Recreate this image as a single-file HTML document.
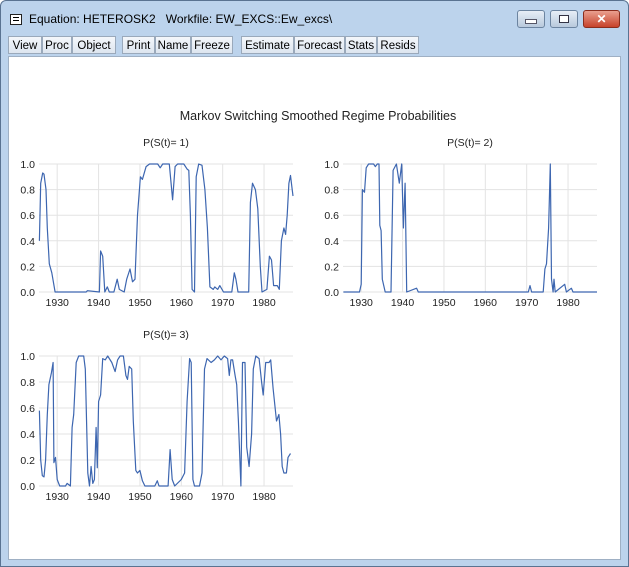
<!DOCTYPE html>
<html><head><meta charset="utf-8"><style>
body{margin:0;width:629px;height:567px;overflow:hidden;font-family:"Liberation Sans",sans-serif;}
#win{position:absolute;left:0;top:0;width:627px;height:565px;background:#bcd3ec;border:1px solid #5a7391;border-radius:6px 6px 0 0;}
.tb{position:absolute;top:35px;height:18px;background:linear-gradient(#f4f7fb,#dde5ef);border:1px solid #9aa9bb;font-size:11.5px;line-height:18px;text-align:center;color:#000;box-sizing:border-box;}
.wbtn{position:absolute;top:9px;height:18px;border:1px solid #6c84a0;border-radius:3px;background:linear-gradient(#e7eef7,#b8c9dc);box-sizing:border-box;}
</style></head><body>
<div id="win">
<div style="position:absolute;left:9px;top:13px;width:12px;height:11px;border:1px solid #222;background:#fff;box-sizing:border-box;"><div style="margin:2px 2px;border-top:1px solid #000;border-bottom:1px solid #000;height:2px"></div></div>
<div style="position:absolute;left:28px;top:11px;font-size:12px;color:#000;white-space:pre">Equation: HETEROSK2   Workfile: EW_EXCS::Ew_excs\</div>
<div class="wbtn" style="left:516px;width:28px"><div style="margin:8px auto 0;width:10px;height:3px;background:#fff;border:1px solid #556"></div></div>
<div class="wbtn" style="left:549px;width:28px"><div style="margin:4px auto 0;width:8px;height:6px;border:1px solid #334;background:#fff"></div></div>
<div class="wbtn" style="left:582px;width:37px;background:linear-gradient(#e9a08f,#c7422a);border-color:#8a2d1d;color:#fff;font-weight:bold;font-size:12px;text-align:center;line-height:16px">✕</div>
<div class="tb" style="left:7px;width:34px">View</div>
<div class="tb" style="left:41px;width:30px">Proc</div>
<div class="tb" style="left:71px;width:44px">Object</div>
<div class="tb" style="left:121px;width:33px">Print</div>
<div class="tb" style="left:154px;width:36px">Name</div>
<div class="tb" style="left:190px;width:42px">Freeze</div>
<div class="tb" style="left:240px;width:53px">Estimate</div>
<div class="tb" style="left:293px;width:51px">Forecast</div>
<div class="tb" style="left:344px;width:32px">Stats</div>
<div class="tb" style="left:376px;width:42px">Resids</div>
<div style="position:absolute;left:7px;top:55px;width:611px;height:502px;background:#fff;border:1px solid #9fb0c4;"></div>
</div>
<svg id="chart" width="629" height="567" style="position:absolute;left:0;top:0" font-family="Liberation Sans, sans-serif">
<text x="318" y="120" text-anchor="middle" font-size="12.5" fill="#222">Markov Switching Smoothed Regime Probabilities</text>
</svg>
<script>
const xTicks=[1930,1940,1950,1960,1970,1980];
const yTicks=[0,0.2,0.4,0.6,0.8,1.0];
const yTickLabels=["0.0","0.2","0.4","0.6","0.8","1.0"];
const titles=["P(S(t)= 1)","P(S(t)= 2)","P(S(t)= 3)"];
const years1=[1925.7,1926.0,1926.5,1926.8,1927.3,1927.6,1928.1,1928.7,1929.5,1937.0,1937.3,1940.2,1940.5,1941.0,1941.5,1942.1,1942.6,1943.7,1944.5,1945.0,1946.2,1946.8,1947.6,1948.2,1948.8,1949.4,1950.1,1950.6,1951.5,1952.3,1954.3,1954.9,1955.5,1957.1,1957.9,1958.5,1959.1,1960.6,1961.4,1961.8,1962.2,1962.6,1963.2,1963.6,1964.2,1965.0,1965.7,1966.3,1966.9,1967.7,1968.1,1968.8,1969.3,1970.2,1972.2,1972.8,1973.2,1973.7,1976.3,1976.7,1977.2,1977.9,1978.5,1979.1,1979.5,1980.7,1981.3,1981.8,1982.3,1983.2,1983.7,1984.2,1984.8,1985.2,1985.6,1986.0,1986.4,1986.8,1987.0];
const values1=[0.4,0.85,0.93,0.92,0.8,0.5,0.22,0.15,0.0,0.0,0.01,0.0,0.32,0.28,0.0,0.04,0.0,0.0,0.1,0.02,0.0,0.1,0.18,0.08,0.1,0.6,0.9,0.88,0.98,1.0,1.0,0.97,1.0,1.0,0.72,0.98,1.0,1.0,0.96,0.95,0.6,0.02,0.0,0.9,1.0,0.99,0.8,0.5,0.04,0.02,0.04,0.02,0.05,0.0,0.0,0.15,0.1,0.0,0.0,0.7,0.85,0.8,0.65,0.2,0.0,0.02,0.28,0.25,0.05,0.05,0.02,0.4,0.5,0.45,0.6,0.85,0.91,0.8,0.75];
const years2=[1925.7,1929.6,1930.0,1930.3,1930.8,1931.2,1931.8,1933.0,1933.4,1933.9,1934.3,1934.5,1934.8,1935.1,1935.8,1937.2,1937.7,1938.5,1939.2,1939.8,1940.2,1940.6,1941.0,1943.4,1943.8,1970.4,1970.8,1971.2,1974.0,1974.4,1974.8,1975.3,1975.7,1976.0,1976.4,1976.6,1976.9,1979.2,1979.6,1980.8,1981.2,1987.0];
const values2=[0,0,0.06,0.8,0.78,0.97,1.0,1.0,0.98,1.0,1.0,0.52,0.48,0.1,0.0,0.0,0.95,1.0,0.85,1.0,0.5,0.85,0.0,0.03,0.0,0.0,0.05,0.0,0.0,0.18,0.22,0.5,1.0,0.1,0.0,0.1,0.0,0.06,0.0,0.03,0.0,0.0];
const years3=[1925.7,1926.0,1926.4,1926.8,1927.2,1927.6,1928.0,1928.6,1929.0,1929.2,1929.6,1930.0,1930.6,1932.0,1932.4,1933.2,1933.6,1934.0,1934.6,1935.2,1936.4,1936.8,1937.4,1937.8,1938.2,1938.6,1939.0,1939.4,1939.7,1940.0,1940.5,1941.0,1941.6,1942.2,1943.2,1944.0,1944.6,1945.2,1946.0,1946.6,1947.0,1947.4,1948.0,1948.4,1949.0,1949.4,1950.0,1950.6,1951.2,1953.6,1954.2,1954.6,1956.8,1957.3,1957.8,1958.4,1960.0,1960.8,1961.4,1962.0,1962.4,1962.8,1963.2,1964.4,1965.0,1965.6,1966.2,1967.2,1968.0,1968.8,1969.6,1970.4,1971.2,1971.6,1972.0,1972.4,1973.0,1973.4,1973.8,1974.4,1974.8,1975.4,1975.8,1976.4,1977.0,1977.4,1978.0,1978.8,1979.4,1979.8,1980.4,1981.2,1981.6,1982.2,1983.0,1983.6,1984.0,1984.4,1984.8,1985.4,1985.8,1986.4];
const values3=[0.58,0.2,0.08,0.07,0.2,0.55,0.78,0.87,0.95,0.18,0.22,0.05,0.0,0.0,0.02,0.0,0.45,0.55,0.95,1.0,1.0,0.9,0.1,0.0,0.15,0.02,0.05,0.45,0.14,0.65,0.7,0.98,0.97,1.0,0.95,0.88,0.97,1.0,1.0,0.85,0.82,0.92,0.9,0.5,0.12,0.1,0.12,0.04,0.0,0.0,0.04,0.0,0.0,0.28,0.05,0.0,0.05,0.1,0.65,0.98,0.95,0.05,0.0,0.0,0.1,0.9,0.98,0.95,0.97,1.0,0.97,1.0,0.98,0.85,0.97,0.97,0.85,0.78,0.5,0.0,0.95,0.95,0.3,0.15,0.4,0.9,1.0,0.98,0.8,0.7,0.95,0.95,0.97,0.75,0.5,0.55,0.4,0.15,0.1,0.1,0.22,0.25];
const X0=1925.6,X1=1987.0;
const panels=[{l:39,r:293,t:164,b:292,ty:146},{l:343,r:597,t:164,b:292,ty:146},{l:39,r:293,t:356,b:486,ty:338}];
const series=[[years1,values1],[years2,values2],[years3,values3]];
const svg=document.getElementById('chart');
const NS='http://www.w3.org/2000/svg';
function mk(tag,attrs){const e=document.createElementNS(NS,tag);for(const k in attrs)e.setAttribute(k,attrs[k]);svg.appendChild(e);return e;}
panels.forEach((p,i)=>{
  const sx=v=>p.l+(v-X0)/(X1-X0)*(p.r-p.l);
  const sy=v=>p.b-v*(p.b-p.t);
  const t=mk('text',{x:(p.l+p.r)/2,y:p.ty,'text-anchor':'middle','font-size':'10.5',fill:'#222'});
  t.textContent=titles[i];
  
  
  yTicks.forEach((v,j)=>{
    const g=mk('line',{x1:p.l,x2:p.r,y1:sy(v),y2:sy(v),stroke:'#e3e3e3','stroke-width':1});
    
    
    const lb=mk('text',{x:p.l-4,y:sy(v)+4,'text-anchor':'end','font-size':'10.5',fill:'#222'});
    lb.textContent=yTickLabels[j];
    
    
  });
  xTicks.forEach(v=>{
    const g=mk('line',{x1:sx(v),x2:sx(v),y1:p.t,y2:p.b,stroke:'#e3e3e3','stroke-width':1});
    
    
    const lb=mk('text',{x:sx(v),y:p.b+14,'text-anchor':'middle','font-size':'10.5',fill:'#222'});
    lb.textContent=String(v);
    
    
  });
  const [ys,vs]=series[i];
  const d=ys.map((y,k)=>(k?'L':'M')+sx(y).toFixed(1)+','+sy(vs[k]).toFixed(1)).join('');
  const path=mk('path',{d:d,fill:'none',stroke:'#3d66b0','stroke-width':1.2,'stroke-linejoin':'round'});
  
  
});
</script>
</body></html>
